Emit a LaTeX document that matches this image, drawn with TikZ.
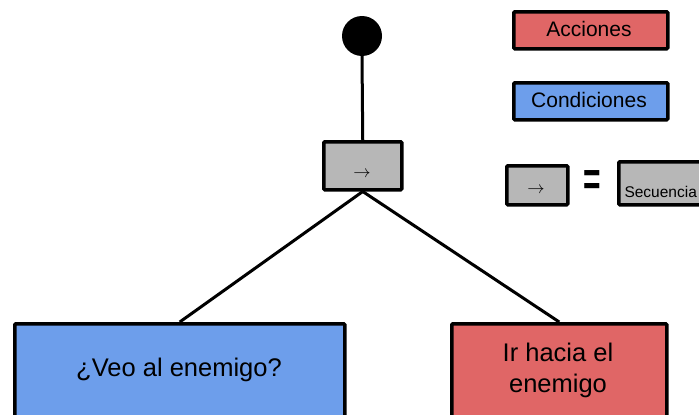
\documentclass[tikz,border=0pt]{standalone}
\usepackage{fontspec}
\setmainfont{Liberation Sans}
\usepackage{graphicx}
\definecolor{accion}{HTML}{E06666}
\definecolor{condicion}{HTML}{6D9EEB}
\definecolor{secuencia}{HTML}{B7B7B7}
\tikzset{
  x=1pt, y=-1pt,
  boxbase/.style={draw=black, line width=3.5pt, rounded corners=1pt, inner sep=0pt, anchor=north west},
  accbox/.style={boxbase, fill=accion},
  condbox/.style={boxbase, fill=condicion},
  seqbox/.style={boxbase, fill=secuencia},
  edge/.style={line width=3pt},
  leaftext/.style={align=center, font=\fontsize{25.5}{31}\selectfont},
  legendtext/.style={font=\fontsize{21}{24}\selectfont},
  arrowtext/.style={font=\fontsize{17}{17}\selectfont},
}
\begin{document}
\begin{tikzpicture}
\useasboundingbox (0,0) rectangle (699,415);

% root
\node[circle, fill=black, minimum size=40pt, inner sep=0pt] (root) at (362,36) {};

% sequence node
\node[seqbox, minimum width=78pt, minimum height=48pt] (seq) at (322,140) {};
\node[arrowtext] (seqarrow) at (362,174) {$\rightarrow$};

% leaves
\node[condbox, minimum width=330pt, minimum height=110pt] (veo) at (13,322) {};
\node[leaftext] (veotext) at (179,370) {¿Veo al enemigo?};
\node[accbox, minimum width=215pt, minimum height=110pt] (ir) at (450,322) {};
\node[leaftext] (irtext) at (558,370) {Ir hacia el\\enemigo};

% connectors
\draw[edge] (root.south) -- (seq.north);
\draw[edge] (seq.south) -- (veo.north);
\draw[edge] (seq.south) -- (ir.north);

% legend
\node[accbox, minimum width=154pt, minimum height=37pt] (lacc) at (512,10) {};
\node[legendtext] (lacctext) at (589,29) {Acciones};
\node[condbox, minimum width=154pt, minimum height=37pt] (lcond) at (512,81) {};
\node[legendtext] (lcondtext) at (589,100) {Condiciones};

\node[seqbox, minimum width=61pt, minimum height=39pt] (lseq) at (505,164) {};
\node[arrowtext] (lseqarrow) at (536,190) {$\rightarrow$};
\node (equal) at (592,183) {\scalebox{1}[1.6]{\fontsize{30}{30}\selectfont\bfseries =}};
\node[seqbox, minimum width=100pt, minimum height=43pt] (lsecu) at (617,160) {};
\node[anchor=west, font=\fontsize{15.5}{18}\selectfont] (lsecutext) at (621,192) {Secuencia};
\end{tikzpicture}
\end{document}
